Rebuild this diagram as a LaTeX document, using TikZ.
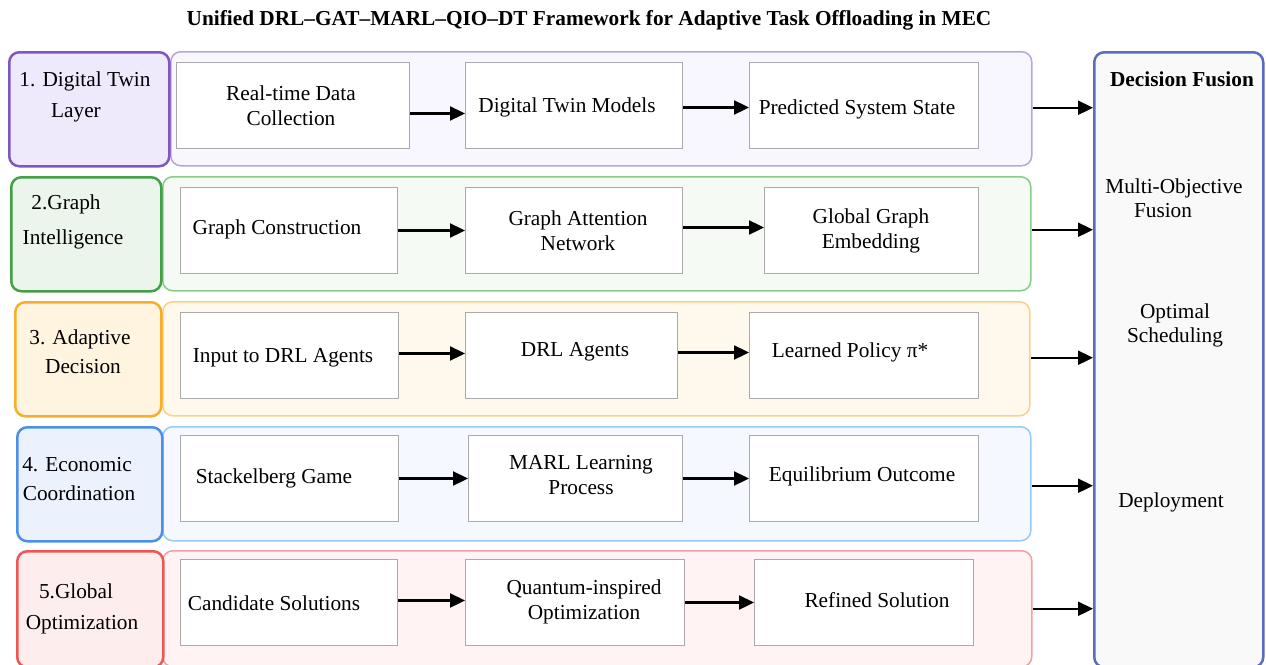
\documentclass[tikz,border=0pt]{standalone}
\usepackage{fontspec}
\setmainfont{Liberation Serif}
\usetikzlibrary{arrows.meta}

% layer colours: strong border / light fill for the label cell, soft border / fill for the row panel
\definecolor{dtB}{HTML}{7E57C2}\definecolor{dtF}{HTML}{EEEAFB}
\definecolor{dtPB}{HTML}{B9A4E0}\definecolor{dtPF}{HTML}{F8F6FE}
\definecolor{gB}{HTML}{43A047}\definecolor{gF}{HTML}{ECF5EC}
\definecolor{gPB}{HTML}{88CC8A}\definecolor{gPF}{HTML}{F5FBF4}
\definecolor{aB}{HTML}{F9AE2B}\definecolor{aF}{HTML}{FFF4E0}
\definecolor{aPB}{HTML}{FFCF88}\definecolor{aPF}{HTML}{FFF8EC}
\definecolor{eB}{HTML}{4A90E8}\definecolor{eF}{HTML}{EBF2FE}
\definecolor{ePB}{HTML}{95CBF7}\definecolor{ePF}{HTML}{F5F9FF}
\definecolor{oB}{HTML}{EE5555}\definecolor{oF}{HTML}{FDEDED}
\definecolor{oPB}{HTML}{F0A0A0}\definecolor{oPF}{HTML}{FFF3F3}
\definecolor{fusB}{HTML}{5C6BC0}\definecolor{fusF}{HTML}{F9F9F9}
\definecolor{boxgray}{HTML}{AAAAAA}

\begin{document}
\begin{tikzpicture}[x=1pt,y=-1pt,
  labcell/.style={draw, line width=2.5pt, rounded corners=10pt, anchor=north west, inner sep=0pt, minimum height=114pt},
  rowpanel/.style={draw, line width=1.5pt, rounded corners=10pt, anchor=north west, inner sep=0pt, minimum height=114pt},
  stepbox/.style={draw=boxgray, fill=white, line width=1pt, anchor=north west, inner sep=0pt, minimum height=86pt},
  txt/.style={font=\fontsize{21.3}{25}\selectfont, align=center, inner sep=0pt, yshift=-2pt},
  arr/.style={line width=2.3pt, -{Triangle[length=15pt,width=14pt]}}
]
\useasboundingbox (0,0) rectangle (1266,664);
\clip (0,0) rectangle (1266,664);

% title
\node[font=\fontsize{21.3}{24}\selectfont\bfseries, inner sep=0pt, yshift=-2pt] (title) at (589,18)
  {Unified DRL--GAT--MARL--QIO--DT Framework for Adaptive Task Offloading in MEC};

% decision fusion column
\node[draw=fusB, fill=fusF, line width=2.5pt, rounded corners=10pt, anchor=north west,
      minimum width=169pt, minimum height=615pt, inner sep=0pt] (fus) at (1093,51) {};
\node[txt, font=\fontsize{21.3}{25}\selectfont\bfseries] (fusT) at (1182,77) {Decision Fusion};
\node[txt] (fusA1) at (1174,186) {Multi-Objective};
\node[txt] (fusA2) at (1163,209) {Fusion};
\node[txt] (fusB1) at (1175,311) {Optimal};
\node[txt] (fusB2) at (1175,335) {Scheduling};
\node[txt] (fusC) at (1171,500) {Deployment};

% ---------- 1. Digital Twin Layer ----------
\node[rowpanel, draw=dtPB, fill=dtPF, minimum width=861pt] (p1) at (170,51) {};
\node[labcell, draw=dtB, fill=dtF, minimum width=160pt] (l1) at (8,51) {};
\node[txt] (l1a) at (85,79) {1. Digital Twin};
\node[txt] (l1b) at (76,111) {Layer};
\node[stepbox, minimum width=233pt] (a1) at (176,62) {};
\node[stepbox, minimum width=217pt] (a2) at (465,62) {};
\node[stepbox, minimum width=229pt] (a3) at (749,62) {};
\node[txt] (a1t) at (291,103.5) {Real-time Data\\Collection};
\node[txt] (a2t) at (567,105) {Digital Twin Models};
\node[txt] (a3t) at (857,107) {Predicted System State};
\draw[arr] ([yshift=-8pt]a1.east) -- ([yshift=-8pt]a2.west);
\draw[arr] ([yshift=-2pt]a2.east) -- ([yshift=-2pt]a3.west);
\coordinate (o1) at ([yshift=1pt]p1.east);
\draw[arr] (o1) -- (o1 -| fus.west);

% ---------- 2. Graph Intelligence ----------
\node[rowpanel, draw=gPB, fill=gPF, minimum width=868pt] (p2) at (162,176) {};
\node[labcell, draw=gB, fill=gF, minimum width=150pt] (l2) at (10,176) {};
\node[txt] (l2a) at (66,202) {2.Graph};
\node[txt] (l2b) at (73,237) {Intelligence};
\node[stepbox, minimum width=217pt] (b1) at (180,187) {};
\node[stepbox, minimum width=217pt] (b2) at (465,187) {};
\node[stepbox, minimum width=214pt] (b3) at (764,187) {};
\node[txt] (b1t) at (277,227) {Graph Construction};
\node[txt] (b2t) at (578,228.5) {Graph Attention\\Network};
\node[txt] (b3t) at (871,228.5) {Global Graph\\Embedding};
\draw[arr] (b1.east) -- (b2.west);
\draw[arr] ([yshift=3pt]b2.east) -- ([yshift=3pt]b3.west);
\coordinate (o2) at ([yshift=4pt]p2.east);
\draw[arr] (o2) -- (o2 -| fus.west);

% ---------- 3. Adaptive Decision ----------
\node[rowpanel, draw=aPB, fill=aPF, minimum width=867pt] (p3) at (162,301) {};
\node[labcell, draw=aB, fill=aF, minimum width=146pt] (l3) at (14,301) {};
\node[txt] (l3a) at (80,337) {3. Adaptive};
\node[txt] (l3b) at (83,365) {Decision};
\node[stepbox, minimum width=218pt] (c1) at (180,312) {};
\node[stepbox, minimum width=212pt] (c2) at (465,312) {};
\node[stepbox, minimum width=229pt] (c3) at (749,312) {};
\node[txt] (c1t) at (283,356) {Input to DRL Agents};
\node[txt] (c2t) at (575,350) {DRL Agents};
\node[txt] (c3t) at (850,350) {Learned Policy π*};
\draw[arr] ([yshift=2pt]c1.east) -- ([yshift=2pt]c2.west);
\draw[arr] ([yshift=3pt]c2.east) -- ([yshift=3pt]c3.west);
\coordinate (o3) at ([yshift=1pt]p3.east);
\draw[arr] (o3) -- (o3 -| fus.west);

% ---------- 4. Economic Coordination ----------
\node[rowpanel, draw=ePB, fill=ePF, minimum width=868pt] (p4) at (162,426) {};
\node[labcell, draw=eB, fill=eF, minimum width=145pt] (l4) at (16,426) {};
\node[txt] (l4a) at (77,463) {4. Economic};
\node[txt] (l4b) at (79,491) {Coordination};
\node[stepbox, minimum width=218pt] (d1) at (180,435) {};
\node[stepbox, minimum width=214pt] (d2) at (468,435) {};
\node[stepbox, minimum width=229pt] (d3) at (749,435) {};
\node[txt] (d1t) at (274,476) {Stackelberg Game};
\node[txt] (d2t) at (581,473) {MARL Learning\\Process};
\node[txt] (d3t) at (862,474) {Equilibrium Outcome};
\draw[arr] (d1.east) -- (d2.west);
\draw[arr] (d2.east) -- (d3.west);
\coordinate (o4) at ([yshift=-2pt]p4.east);
\draw[arr] (o4) -- (o4 -| fus.west);

% ---------- 5. Global Optimization ----------
\node[rowpanel, draw=oPB, fill=oPF, minimum width=869pt, minimum height=116pt] (p5) at (162,550) {};
\node[labcell, draw=oB, fill=oF, minimum width=146pt, minimum height=116pt] (l5) at (16,550) {};
\node[txt] (l5a) at (76,589) {5.Global};
\node[txt] (l5b) at (82,623) {Optimization};
\node[stepbox, minimum width=217pt] (e1) at (180,559) {};
\node[stepbox, minimum width=219pt] (e2) at (465,559) {};
\node[stepbox, minimum width=219pt] (e3) at (754,559) {};
\node[txt] (e1t) at (274,601) {Candidate Solutions};
\node[txt] (e2t) at (584,599.5) {Quantum-inspired\\Optimization};
\node[txt] (e3t) at (877,598) {Refined Solution};
\draw[arr] ([yshift=2pt]e1.east) -- ([yshift=2pt]e2.west);
\draw[arr] (e2.east) -- (e3.west);
\coordinate (o5) at (p5.east);
\draw[arr] (o5) -- (o5 -| fus.west);
\end{tikzpicture}
\end{document}
